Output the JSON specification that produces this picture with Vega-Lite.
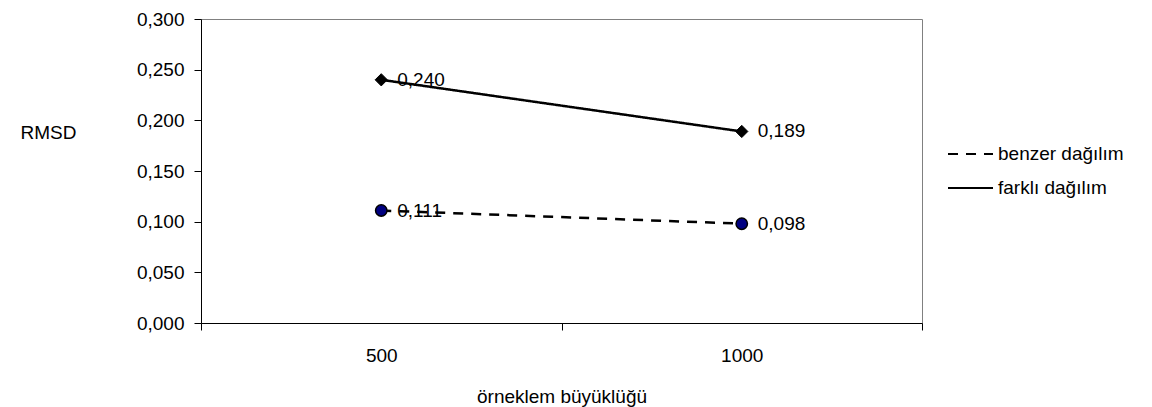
{
  "$schema": "https://vega.github.io/schema/vega-lite/v6.json",
  "width": 721,
  "height": 304,
  "autosize": {"type": "none"},
  "padding": {"left": 201, "top": 19, "right": 230, "bottom": 84},
  "config": {
    "locale": {"number": {"decimal": ",", "thousands": ".", "grouping": [3], "currency": ["", ""]}},
    "font": "Liberation Sans",
    "background": "white",
    "view": {"stroke": "#808080", "strokeWidth": 1},
    "axis": {
      "grid": false,
      "domainColor": "#000000",
      "tickColor": "#000000",
      "labelColor": "#000000",
      "titleColor": "#000000",
      "labelFont": "Liberation Sans",
      "titleFont": "Liberation Sans",
      "labelFontSize": 19,
      "titleFontSize": 19,
      "titleFontWeight": "normal",
      "tickSize": 7,
      "domainWidth": 1,
      "tickWidth": 1
    }
  },
  "data": {
    "values": [
      {"n": "500", "rmsd": 0.111, "seri": "benzer dağılım"},
      {"n": "1000", "rmsd": 0.098, "seri": "benzer dağılım"},
      {"n": "500", "rmsd": 0.240, "seri": "farklı dağılım"},
      {"n": "1000", "rmsd": 0.189, "seri": "farklı dağılım"}
    ]
  },
  "encoding": {
    "x": {
      "field": "n",
      "type": "ordinal",
      "sort": ["500", "1000"],
      "scale": {"type": "band", "paddingInner": 0, "paddingOuter": 0},
      "axis": {
        "title": "örneklem büyüklüğü",
        "labelAngle": 0,
        "tickBand": "extent",
        "labelBaseline": "middle",
        "labelPadding": 25,
        "titleY": 73,
        "titleBaseline": "middle"
      }
    },
    "y": {
      "field": "rmsd",
      "type": "quantitative",
      "scale": {"domain": [0, 0.3], "nice": false, "zero": true},
      "axis": {
        "values": [0, 0.05, 0.1, 0.15, 0.2, 0.25, 0.3],
        "format": ".3f",
        "labelPadding": 10,
        "title": "RMSD",
        "titleAngle": 0,
        "titleAlign": "left",
        "titleBaseline": "middle",
        "titleX": -181,
        "titleY": 113
      }
    }
  },
  "layer": [
    {
      "mark": {"type": "line", "strokeWidth": 2.5, "color": "#000000"},
      "encoding": {
        "strokeDash": {
          "field": "seri",
          "type": "nominal",
          "scale": {"domain": ["benzer dağılım", "farklı dağılım"], "range": [[10, 8], [1, 0]]},
          "legend": {
            "title": null,
            "orient": "none",
            "legendX": 757,
            "legendY": 122.5,
            "padding": 0,
            "symbolType": "M-2,0H2",
            "symbolSize": 506,
            "symbolStrokeWidth": 2,
            "symbolStrokeColor": "#000000",
            "labelFont": "Liberation Sans",
            "labelFontSize": 19,
            "labelColor": "#000000",
            "labelOffset": 15,
            "rowPadding": 11
          }
        }
      }
    },
    {
      "transform": [{"filter": "datum.seri === 'benzer dağılım'"}],
      "mark": {"type": "point", "shape": "circle", "filled": true, "opacity": 1, "size": 130, "fill": "#000080", "stroke": "#000000", "strokeWidth": 1.5}
    },
    {
      "transform": [{"filter": "datum.seri === 'farklı dağılım'"}],
      "mark": {"type": "point", "shape": "diamond", "filled": true, "opacity": 1, "size": 150, "fill": "#000000", "stroke": "#000000", "strokeWidth": 1}
    },
    {
      "mark": {"type": "text", "align": "left", "baseline": "middle", "dx": 16, "fontSize": 19, "font": "Liberation Sans", "color": "#000000"},
      "encoding": {
        "text": {"field": "rmsd", "type": "quantitative", "format": ".3f"}
      }
    }
  ]
}
